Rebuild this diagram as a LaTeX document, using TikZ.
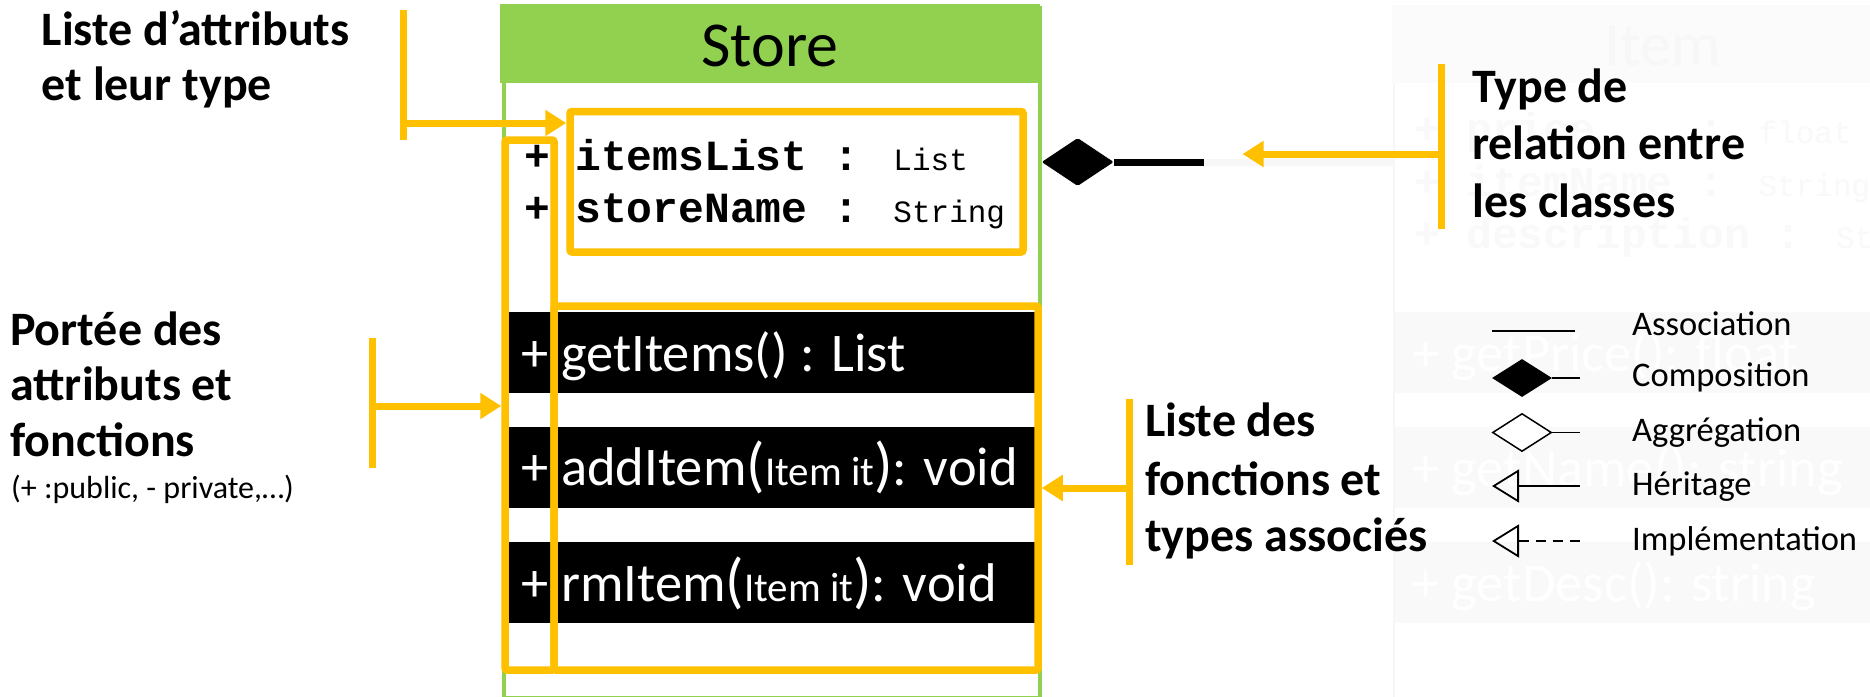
\documentclass[tikz,border=0pt]{standalone}
\usepackage{fontspec}
\setmainfont{Carlito}
\newfontfamily\monof{Liberation Mono}
\usetikzlibrary{arrows.meta,shapes.geometric}
\definecolor{uyel}{HTML}{FFC000}
\definecolor{ugreen}{HTML}{92D050}
\newcommand\fsz[1]{\fontsize{#1}{#1}\selectfont}
\begin{document}
\begin{tikzpicture}[x=1pt,y=-1pt,
  note/.style={anchor=base west,inner sep=0pt,font=\bfseries\fsz{48}},
  smallnote/.style={anchor=base west,inner sep=0pt,font=\fsz{32}},
  yline/.style={draw=uyel,line width=7pt},
  yarrow/.style={yline,-{Triangle[length=21pt,width=25pt]}},
  ybox/.style={draw=uyel,line width=7.5pt,rounded corners=2pt,inner sep=0pt},
  bar/.style={fill=black,inner sep=0pt,minimum width=532pt,minimum height=81pt,anchor=north west},
  bartext/.style={anchor=base west,inner sep=0pt,text=white,font=\fsz{54.5}},
  attr/.style={anchor=base west,inner sep=0pt,font=\monof\bfseries\fsz{43}},
  legline/.style={line width=1.8pt},
  legtext/.style={anchor=base west,inner sep=0pt,font=\fsz{34.5}},
  gbar/.style={fill=black!2.5,inner sep=0pt,minimum width=490pt,minimum height=81pt,anchor=north west},
  gtext/.style={anchor=base west,inner sep=0pt,text=black!2.5,font=\monof\bfseries\fsz{43}},
  gbartext/.style={anchor=base west,inner sep=0pt,text=white,font=\fsz{54.5}},
]
\useasboundingbox (0,0) rectangle (1870,696);
\fill[white] (0,0) rectangle (1870,696);

% ---------- faint background class (Item) ----------
\node[draw=black!3.5,line width=2pt,fill=white,minimum width=500pt,minimum height=700pt,inner sep=0pt,anchor=north west] (ghost) at (1393,5) {};
\node[fill=black!1.5,minimum width=500pt,minimum height=78pt,inner sep=0pt,anchor=north west] (ghosthead) at (1392,5) {};
\node[anchor=base,inner sep=0pt,text=black!3,font=\fsz{62}] (ghostname) at (1663,65) {Item};
\node[gtext,anchor=base] (gp1) at (1427,143) {+};
\node[gtext] (ga1) at (1466,143) {price\ \ \ \ : {\mdseries\fsz{31}float}};
\node[gtext,anchor=base] (gp2) at (1427,196) {+};
\node[gtext] (ga2) at (1466,196) {itemName : {\mdseries\fsz{31}String}};
\node[gtext,anchor=base] (gp3) at (1427,248) {+};
\node[gtext] (ga3) at (1466,248) {description : {\mdseries\fsz{31}String}};
\node[gbar] (gbar1) at (1395,312) {};
\node[gbar] (gbar2) at (1395,427) {};
\node[gbar] (gbar3) at (1395,542) {};
\node[gbartext] (gm1) at (1412,371) {+ getPrice(): float};
\node[gbartext] (gm2) at (1412,486) {+ getName(): string};
\node[gbartext] (gm3) at (1412,601) {+ getDesc(): string};

% ---------- Store class ----------
\node[draw=ugreen,line width=4pt,fill=white,minimum width=536pt,minimum height=690pt,inner sep=0pt,anchor=north west] (store) at (502,6) {};
\node[fill=ugreen,minimum width=540pt,minimum height=79pt,inner sep=0pt,anchor=north west] (storehead) at (500,4) {};
\node[anchor=base,inner sep=0pt,font=\fsz{64}] (storename) at (770,66) {Store};

\node[attr,anchor=base] (ap1) at (537,170) {+};
\node[attr] (a1) at (575,170) {itemsList : {\mdseries\fsz{31}List}};
\node[attr,anchor=base] (ap2) at (537,222) {+};
\node[attr] (a2) at (575,222) {storeName : {\mdseries\fsz{31}String}};

\node[bar] (bar1) at (504,312) {};
\node[bar] (bar2) at (504,427) {};
\node[bar] (bar3) at (504,542) {};
\node[bartext,anchor=base] (mp1) at (535.5,371) {+};
\node[bartext,anchor=base] (mp2) at (535.5,485) {+};
\node[bartext,anchor=base] (mp3) at (535.5,601) {+};
\node[bartext] (m1) at (561,371) {getItems() : List};
\node[bartext] (m2) at (561,485) {addItem{\fsz{61}(}{\fsz{41}Item it}{\fsz{61})}: void};
\node[bartext] (m3) at (561,601) {rmItem{\fsz{61}(}{\fsz{41}Item it}{\fsz{61})}: void};

% yellow highlight boxes
\node[ybox,minimum width=453pt,minimum height=140.5pt] (attrbox) at (796.5,181.75) {};
\node[ybox,minimum width=49pt,minimum height=530pt] (narrowbox) at (529.5,405) {};
\node[ybox,minimum width=484pt,minimum height=364pt] (methbox) at (796,488) {};

% ---------- composition link ----------
\node[diamond,fill=black,minimum width=72pt,minimum height=48pt,inner sep=0pt,rounded corners=2pt] (comp) at (1077.7,162) {};
\coordinate (compend) at (1204,162);
\coordinate (ghostw) at (1393,162);
\draw[black!3,line width=7pt] (compend) -- (ghostw);
\draw[line width=7pt] (comp.east) -- (compend);

% ---------- annotations ----------
\node[note] (lat1) at (41.5,45) {Liste d’attributs};
\node[note] (lat2) at (41.5,100) {et leur type};
\coordinate (b1t) at (403,10);
\coordinate (b1b) at (403,140);
\coordinate (b1m) at (403,123);
\draw[yline] (b1t) -- (b1b);
\draw[yarrow] (b1m) -- (b1m -| attrbox.west);

\node[note] (po1) at (10,345) {Portée des};
\node[note] (po2) at (10,400.7) {attributs et};
\node[note] (po3) at (10,456.7) {fonctions};
\node[smallnote] (po4) at (11,498) {(+ :public, - private,…)};
\coordinate (b2t) at (372.5,338);
\coordinate (b2b) at (372.5,468);
\coordinate (b2m) at (372.5,406);
\draw[yline] (b2t) -- (b2b);
\draw[yarrow] (b2m) -- (b2m -| narrowbox.west);

\node[note] (ty1) at (1472,102) {Type de};
\node[note] (ty2) at (1472,159) {relation entre};
\node[note] (ty3) at (1472,217) {les classes};
\coordinate (b3t) at (1441,64);
\coordinate (b3b) at (1441,229);
\coordinate (b3m) at (1441,154);
\coordinate (relend) at (1242.5,154);
\draw[yline] (b3t) -- (b3b);
\draw[yarrow] (b3m) -- (relend);

\node[note] (lf1) at (1145,436.7) {Liste des};
\node[note] (lf2) at (1145,495) {fonctions et};
\node[note] (lf3) at (1145,551.7) {types associés};
\coordinate (b4t) at (1129.5,399);
\coordinate (b4b) at (1129.5,565);
\coordinate (b4m) at (1129.5,488);
\draw[yline] (b4t) -- (b4b);
\draw[yarrow] (b4m) -- (b4m -| methbox.east);

% ---------- legend ----------
\coordinate (la1) at (1492,331);
\coordinate (la2) at (1575,331);
\draw[legline] (la1) -- (la2);
\node[legtext] (lta) at (1632,335) {Association};

\node[diamond,fill=black,minimum width=60pt,minimum height=38pt,inner sep=0pt] (lcomp) at (1522,378) {};
\coordinate (lc2) at (1580,378);
\draw[legline] (lcomp.east) -- (lc2);
\node[legtext] (ltc) at (1632,386) {Composition};

\node[diamond,draw=black,fill=white,line width=1.5pt,minimum width=59pt,minimum height=38pt,inner sep=0pt] (lagg) at (1522,432.5) {};
\coordinate (lg2) at (1580,432.5);
\draw[legline] (lagg.east) -- (lg2);
\node[legtext] (ltg) at (1632,441) {Aggrégation};

\coordinate (lh1) at (1492,486);
\coordinate (lh2) at (1580,486);
\draw[legline,{Triangle[open,length=27pt,width=33pt]}-] (lh1) -- (lh2);
\node[legtext] (lth) at (1632,495) {Héritage};

\coordinate (li1) at (1492,541);
\coordinate (li2) at (1580,541);
\draw[legline,dash pattern=on 10pt off 7pt,{Triangle[open,length=27pt,width=33pt]}-] (li1) -- (li2);
\node[legtext] (lti) at (1632,550.7) {Implémentation};
\end{tikzpicture}
\end{document}
